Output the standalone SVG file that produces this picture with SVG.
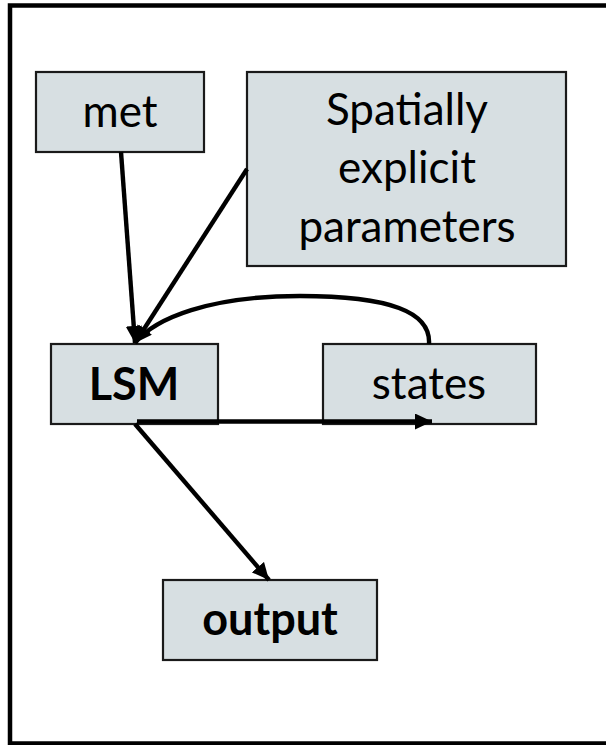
<svg xmlns="http://www.w3.org/2000/svg" width="606" height="745" viewBox="0 0 606 745">
<style>
.box{fill:#D7DFE2;stroke:#1a1a1a;stroke-width:2.2}
.t{font-family:Lato,"Liberation Sans",sans-serif;font-size:44px;fill:#000;text-anchor:middle}
.b{font-weight:bold;font-size:45px}
.c{fill:none;stroke:#000;stroke-width:4.4}
</style>
<defs>
<marker id="ah" markerUnits="userSpaceOnUse" markerWidth="18" markerHeight="16" refX="17" refY="8" orient="auto">
<path d="M0,0 L17,8 L0,16 Z" fill="#000"/>
</marker>
</defs>
<rect x="10" y="5.5" width="640" height="738" fill="#fff" stroke="#000" stroke-width="4.5"/>
<g id="met"><rect class="box" x="36" y="72" width="168" height="80"/><text class="t" x="120" y="127">met</text></g>
<g id="params"><rect class="box" x="247" y="72" width="319" height="194"/>
<text class="t" x="407" y="125">Spatially</text><text class="t" x="407" y="183">explicit</text><text class="t" x="407" y="242">parameters</text></g>
<g id="lsm"><rect class="box" x="51" y="344" width="167" height="80"/><text class="t b" x="134" y="400">LSM</text></g>
<g id="states"><rect class="box" x="323" y="344" width="213" height="80"/><text class="t" x="429" y="399">states</text></g>
<g id="output"><rect class="box" x="163" y="580" width="214" height="80"/><text class="t b" x="270" y="635">output</text></g>
<g id="connectors">
<line class="c" x1="121" y1="152" x2="135" y2="343" marker-end="url(#ah)"/>
<line class="c" x1="247" y1="169" x2="135" y2="343" marker-end="url(#ah)"/>
<path class="c" d="M429,344 C431,312 390,296 300,296 C210,296 155,318 135,343" marker-end="url(#ah)"/>
<line class="c" x1="137" y1="421.5" x2="432" y2="421.5" marker-end="url(#ah)"/>
<line class="c" x1="135" y1="424" x2="269" y2="580" marker-end="url(#ah)"/>
</g>
</svg>
